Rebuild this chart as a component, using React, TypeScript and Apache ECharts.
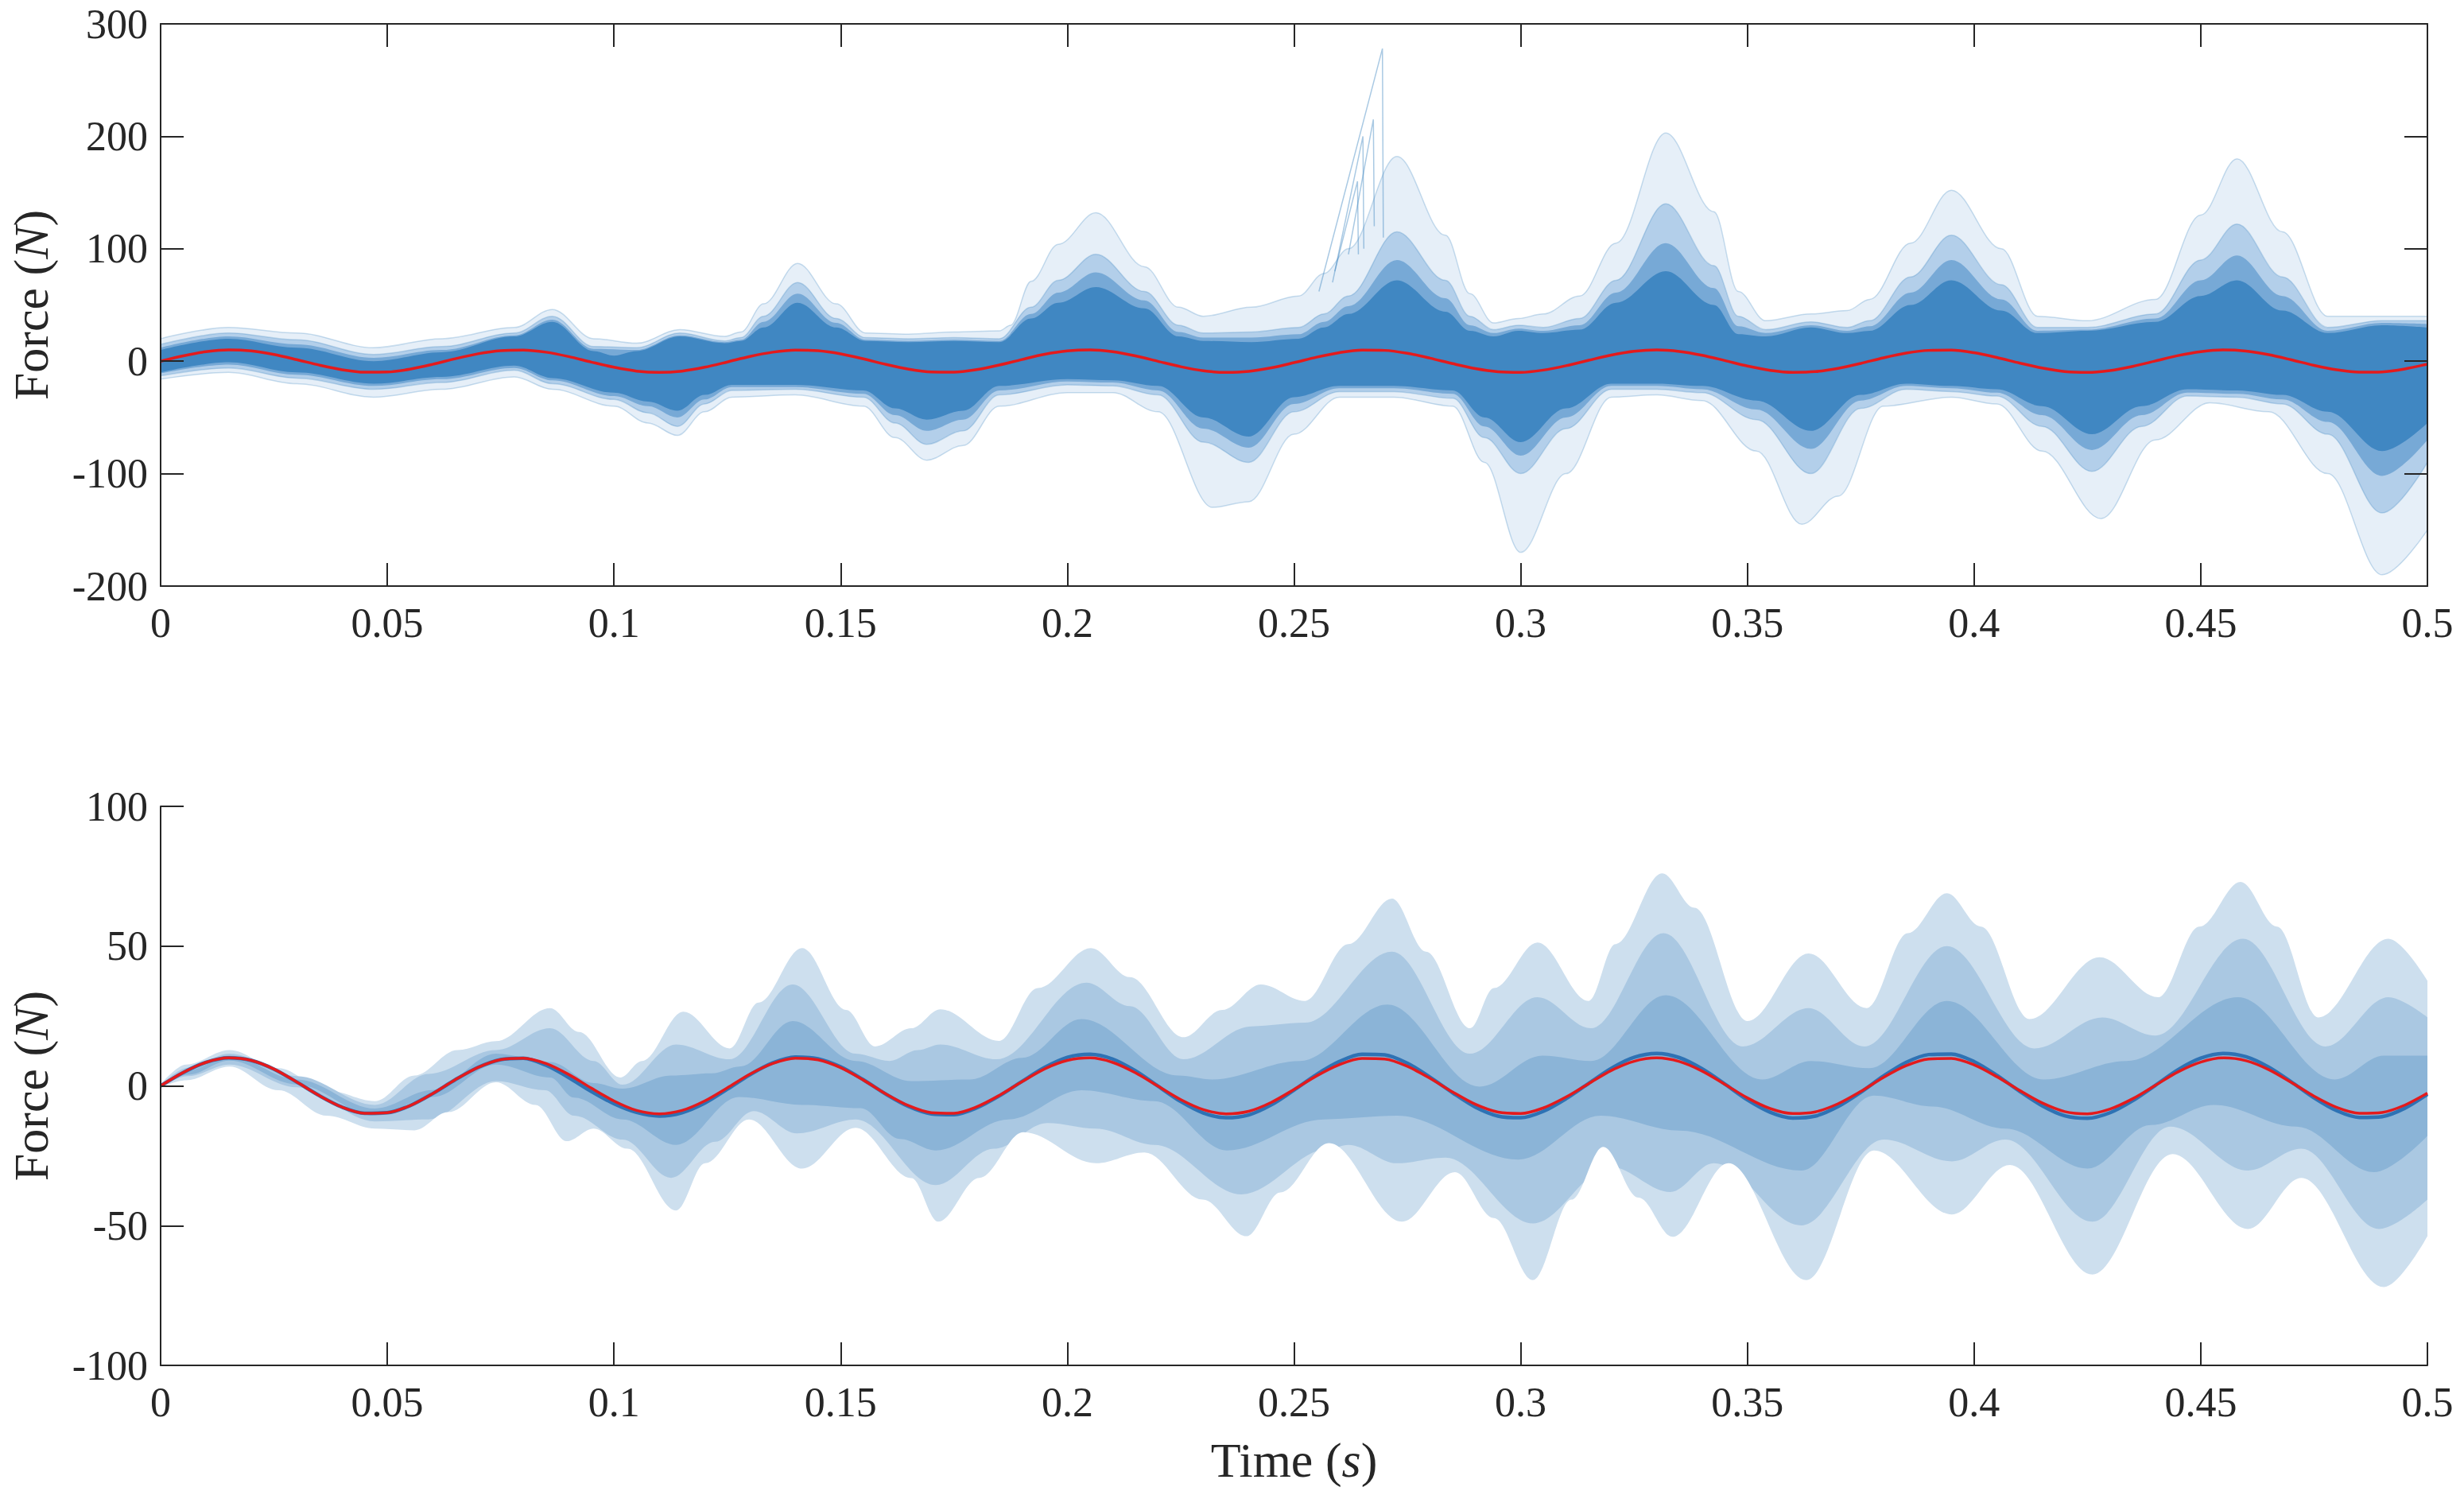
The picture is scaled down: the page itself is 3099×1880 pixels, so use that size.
import React, { useEffect, useRef } from "react";
import * as echarts from "echarts";

// ---------- shared sample times (s) for the reference and median curves ----------
const sampleTimes: number[] = [
  0, 0.005, 0.01, 0.015, 0.02, 0.025, 0.03, 0.035, 0.04, 0.045,
  0.05, 0.055, 0.06, 0.065, 0.07, 0.075, 0.08, 0.085, 0.09, 0.095,
  0.1, 0.105, 0.11, 0.115, 0.12, 0.125, 0.13, 0.135, 0.14, 0.145,
  0.15, 0.155, 0.16, 0.165, 0.17, 0.175, 0.18, 0.185, 0.19, 0.195,
  0.2, 0.205, 0.21, 0.215, 0.22, 0.225, 0.23, 0.235, 0.24, 0.245,
  0.25, 0.255, 0.26, 0.265, 0.27, 0.275, 0.28, 0.285, 0.29, 0.295,
  0.3, 0.305, 0.31, 0.315, 0.32, 0.325, 0.33, 0.335, 0.34, 0.345,
  0.35, 0.355, 0.36, 0.365, 0.37, 0.375, 0.38, 0.385, 0.39, 0.395,
  0.4, 0.405, 0.41, 0.415, 0.42, 0.425, 0.43, 0.435, 0.44, 0.445,
  0.45, 0.455, 0.46, 0.465, 0.47, 0.475, 0.48, 0.485, 0.49, 0.495, 0.5,
];

// red reference force (N)
const referenceForce: number[] = [
  0, 4.8, 8.4, 10.0, 9.1, 6.0, 1.4, -3.5, -7.6, -9.8,
  -9.6, -7.1, -2.8, 2.2, 6.6, 9.4, 9.9, 8.0, 4.1, -0.8,
  -5.4, -8.8, -10.0, -8.8, -5.4, -0.7, 4.2, 8.0, 9.9, 9.3,
  6.5, 2.1, -2.9, -7.1, -9.6, -9.8, -7.5, -3.4, 1.5, 6.1,
  9.1, 10.0, 8.4, 4.7, -0.1, -4.9, -8.5, -10.0, -9.1, -5.9,
  -1.3, 3.6, 7.6, 9.8, 9.6, 7.0, 2.7, -2.2, -6.6, -9.4,
  -9.9, -7.9, -4.0, 0.8, 5.5, 8.8, 10.0, 8.7, 5.3, 0.6,
  -4.3, -8.1, -9.9, -9.3, -6.4, -2.0, 3.0, 7.2, 9.6, 9.8,
  7.5, 3.3, -1.6, -6.1, -9.2, -10.0, -8.3, -4.6, 0.2, 5.0,
  8.5, 10.0, 9.0, 5.8, 1.2, -3.7, -7.7, -9.8, -9.5, -6.9, -2.6,
];

// blue median force (N), bottom panel
const medianForce: number[] = [
  0, 4.8, 8.4, 10.0, 9.1, 6.0, 1.4, -3.5, -7.6, -9.8,
  -9.6, -7.1, -2.8, 2.2, 6.6, 9.4, 9.9, 7.4, 3.0, -2.0,
  -6.4, -9.5, -10.8, -9.6, -6.2, -1.2, 4.0, 8.2, 10.3, 9.7,
  6.8, 2.2, -3.0, -7.4, -10.0, -10.3, -7.9, -3.6, 1.6, 6.6,
  10.2, 11.3, 9.6, 5.4, -0.1, -5.6, -9.7, -11.4, -10.4, -6.8,
  -1.5, 4.1, 8.7, 11.3, 11.1, 8.1, 3.1, -2.5, -7.6, -10.8,
  -11.4, -9.1, -4.6, 0.9, 6.3, 10.2, 11.6, 10.1, 6.1, 0.7,
  -5.0, -9.4, -11.5, -10.8, -7.4, -2.3, 3.5, 8.4, 11.2, 11.4,
  8.7, 3.8, -1.9, -7.1, -10.7, -11.6, -9.6, -5.3, 0.2, 5.8,
  9.9, 11.6, 10.4, 6.7, 1.4, -4.3, -8.9, -11.3, -11.0, -8.0, -3.0,
];

// ---------- top panel: envelopes of the simulated trajectories [t, N] ----------
const topOuterUp: number[][] = [
  [0, 20], [0.015, 30], [0.03, 25], [0.047, 12], [0.062, 20], [0.078, 30], [0.0864, 46], [0.0955, 20],
  [0.105, 16], [0.1145, 28], [0.1244, 22], [0.128, 26], [0.133, 51], [0.1405, 87], [0.149, 51], [0.1555, 25],
  [0.165, 24], [0.175, 26], [0.185, 27], [0.1875, 32], [0.192, 71], [0.198, 104], [0.2063, 132], [0.217, 84],
  [0.2245, 48], [0.23, 40], [0.2406, 48], [0.251, 58], [0.2566, 78], [0.262, 100], [0.2727, 182], [0.2834, 112],
  [0.2888, 60], [0.294, 34], [0.2995, 38], [0.305, 42], [0.313, 58], [0.321, 105], [0.332, 203], [0.3426, 133],
  [0.348, 62], [0.354, 36], [0.364, 42], [0.372, 45], [0.377, 55], [0.386, 105], [0.395, 152], [0.406, 100],
  [0.414, 40], [0.425, 36], [0.44, 55], [0.45, 130], [0.458, 180], [0.468, 115], [0.478, 40], [0.49, 40], [0.5, 40],
];
const topFringeUp: number[][] = [
  [0, 15], [0.015, 25], [0.03, 19], [0.047, 6], [0.062, 13], [0.078, 25], [0.0864, 40], [0.0955, 13],
  [0.105, 12], [0.1145, 25], [0.1244, 18], [0.128, 21], [0.133, 40], [0.1405, 70], [0.149, 38], [0.1555, 21],
  [0.165, 20], [0.175, 21], [0.185, 20], [0.192, 48], [0.198, 72], [0.2063, 95], [0.217, 62], [0.2245, 32],
  [0.23, 25], [0.2406, 26], [0.251, 30], [0.2566, 42], [0.262, 58], [0.2727, 115], [0.2834, 72], [0.2888, 40],
  [0.294, 28], [0.2995, 32], [0.305, 30], [0.313, 38], [0.321, 72], [0.332, 140], [0.3426, 85], [0.348, 40],
  [0.354, 28], [0.364, 35], [0.372, 30], [0.377, 36], [0.386, 75], [0.395, 112], [0.406, 68], [0.414, 30],
  [0.425, 30], [0.44, 42], [0.45, 90], [0.458, 122], [0.468, 75], [0.478, 30], [0.49, 36], [0.5, 36],
];
const topDenseUp: number[][] = [
  [0, 12], [0.015, 22], [0.03, 15], [0.047, 3], [0.062, 10], [0.078, 23], [0.0864, 37], [0.0955, 11],
  [0.105, 10], [0.1145, 23], [0.1244, 17], [0.128, 19], [0.133, 35], [0.1405, 60], [0.149, 34], [0.1555, 19],
  [0.165, 18], [0.175, 19], [0.185, 18], [0.192, 42], [0.198, 61], [0.2063, 79], [0.217, 54], [0.2245, 26],
  [0.23, 21], [0.2406, 21], [0.251, 24], [0.2566, 35], [0.262, 49], [0.2727, 90], [0.2834, 56], [0.2888, 32],
  [0.294, 25], [0.2995, 29], [0.305, 27], [0.313, 32], [0.321, 61], [0.332, 105], [0.3426, 65], [0.348, 31],
  [0.354, 25], [0.364, 32], [0.372, 27], [0.377, 31], [0.386, 61], [0.395, 90], [0.406, 55], [0.414, 27],
  [0.425, 28], [0.44, 38], [0.45, 72], [0.458, 94], [0.468, 58], [0.478, 27], [0.49, 34], [0.5, 33],
];
const topCoreUp: number[][] = [
  [0, 10], [0.015, 20], [0.03, 12], [0.047, 0], [0.062, 8], [0.078, 22], [0.0864, 35], [0.0955, 9],
  [0.1, 5], [0.105, 9], [0.1145, 22], [0.1244, 16], [0.128, 18], [0.133, 30], [0.1405, 52], [0.149, 30],
  [0.1555, 18], [0.165, 17], [0.175, 18], [0.185, 17], [0.192, 38], [0.198, 52], [0.2063, 66], [0.217, 47],
  [0.2245, 22], [0.23, 18], [0.2406, 17], [0.251, 20], [0.2566, 30], [0.262, 42], [0.2727, 72], [0.2834, 44],
  [0.2888, 27], [0.294, 22], [0.2995, 27], [0.305, 25], [0.313, 28], [0.321, 52], [0.332, 80], [0.3426, 50],
  [0.348, 24], [0.354, 22], [0.364, 30], [0.372, 25], [0.377, 27], [0.386, 50], [0.395, 72], [0.406, 45],
  [0.414, 25], [0.425, 27], [0.44, 35], [0.45, 58], [0.458, 72], [0.468, 45], [0.478, 25], [0.49, 32], [0.5, 30],
];
const topCoreLow: number[][] = [
  [0, -10], [0.015, -1], [0.03, -10], [0.047, -20], [0.062, -14], [0.078, -4], [0.0864, -15], [0.1, -28],
  [0.1075, -36], [0.114, -44], [0.12, -30], [0.126, -21], [0.14, -21], [0.155, -26], [0.162, -42], [0.169, -52],
  [0.177, -44], [0.185, -22], [0.2, -16], [0.21, -17], [0.22, -22], [0.23, -50], [0.24, -67], [0.25, -32],
  [0.26, -22], [0.272, -22], [0.285, -26], [0.292, -50], [0.3, -72], [0.31, -42], [0.32, -20], [0.33, -20],
  [0.34, -22], [0.352, -35], [0.364, -62], [0.375, -30], [0.385, -20], [0.395, -22], [0.405, -25], [0.415, -40],
  [0.426, -65], [0.437, -40], [0.447, -25], [0.458, -26], [0.468, -30], [0.478, -45], [0.49, -80], [0.5, -55],
];
const topDenseLow: number[][] = [
  [0, -11], [0.015, -3], [0.03, -12], [0.047, -22], [0.062, -16], [0.078, -6], [0.0864, -17], [0.1, -31],
  [0.1075, -40], [0.114, -50], [0.12, -34], [0.126, -23], [0.14, -23], [0.155, -29], [0.162, -48], [0.169, -62],
  [0.177, -52], [0.185, -26], [0.2, -18], [0.21, -19], [0.22, -26], [0.23, -60], [0.24, -77], [0.25, -38],
  [0.26, -24], [0.272, -24], [0.285, -29], [0.292, -58], [0.3, -84], [0.31, -50], [0.32, -22], [0.33, -22],
  [0.34, -25], [0.352, -43], [0.364, -78], [0.375, -35], [0.385, -22], [0.395, -24], [0.405, -28], [0.415, -48],
  [0.426, -79], [0.437, -48], [0.447, -28], [0.458, -29], [0.468, -34], [0.478, -54], [0.49, -102], [0.5, -70],
];
const topFringeLow: number[][] = [
  [0, -13], [0.015, -6], [0.03, -15], [0.047, -25], [0.062, -19], [0.078, -8], [0.0864, -20], [0.1, -34],
  [0.1075, -46], [0.114, -58], [0.12, -38], [0.126, -26], [0.14, -25], [0.155, -32], [0.162, -55], [0.169, -74],
  [0.177, -62], [0.185, -30], [0.2, -21], [0.21, -22], [0.22, -30], [0.23, -72], [0.24, -90], [0.25, -45],
  [0.26, -27], [0.272, -27], [0.285, -33], [0.292, -68], [0.3, -100], [0.31, -60], [0.32, -25], [0.33, -25],
  [0.34, -28], [0.352, -52], [0.364, -100], [0.375, -42], [0.385, -25], [0.395, -27], [0.405, -31], [0.415, -58],
  [0.426, -98], [0.437, -58], [0.447, -31], [0.458, -32], [0.468, -38], [0.478, -65], [0.49, -135], [0.5, -90],
];
const topOuterLow: number[][] = [
  [0, -16], [0.015, -10], [0.03, -20], [0.047, -32], [0.062, -25], [0.078, -14], [0.0864, -25], [0.1, -40],
  [0.1075, -55], [0.114, -66], [0.12, -45], [0.126, -32], [0.14, -30], [0.155, -40], [0.162, -68], [0.169, -88],
  [0.177, -75], [0.185, -40], [0.2, -28], [0.21, -28], [0.22, -45], [0.232, -130], [0.24, -125], [0.25, -65],
  [0.26, -32], [0.272, -32], [0.285, -40], [0.292, -90], [0.3, -170], [0.31, -100], [0.32, -32], [0.33, -30],
  [0.34, -35], [0.352, -80], [0.362, -145], [0.37, -120], [0.38, -40], [0.395, -32], [0.405, -38], [0.415, -80],
  [0.428, -140], [0.44, -70], [0.452, -37], [0.465, -45], [0.478, -100], [0.49, -190], [0.5, -150],
];
// isolated spiking trajectories near 0.26 s
const spikeTraces: number[][][] = [
  [[0.2555, 62], [0.2695, 278], [0.2697, 110]],
  [[0.2585, 70], [0.2652, 200], [0.2654, 100]],
  [[0.259, 80], [0.264, 160], [0.2642, 95]],
  [[0.262, 95], [0.2675, 215], [0.2677, 120]],
];

// ---------- bottom panel: percentile bands [t, N] ----------
const bandOuterUp: number[][] = [
  [0, 0.5], [0.0056, 7.6], [0.0152, 12.8], [0.026, 6.3], [0.0366, -1.6], [0.0473, -5.5], [0.056, 3.7], [0.0655, 12.8],
  [0.074, 16], [0.0859, 27.8], [0.0923, 19.3], [0.1014, 3.0], [0.1062, 8.9], [0.1153, 26.5], [0.1255, 13.4], [0.1319, 29.8],
  [0.1415, 49.3], [0.1512, 27.2], [0.1576, 14.1], [0.1656, 20.6], [0.172, 27.4], [0.1849, 16.1], [0.1935, 35], [0.2052, 49.3],
  [0.2138, 38.9], [0.2256, 17.4], [0.2342, 27.2], [0.2427, 36.3], [0.2524, 30.4], [0.262, 50.7], [0.2716, 67], [0.2791, 48],
  [0.2888, 20.6], [0.2941, 35], [0.3037, 51.3], [0.315, 30.4], [0.3209, 50.7], [0.3312, 76], [0.3383, 63.7], [0.35, 23.2],
  [0.3635, 47.4], [0.3763, 27.8], [0.3854, 54.6], [0.394, 68.9], [0.4015, 57], [0.4122, 23.9], [0.4277, 46], [0.4406, 31.7],
  [0.4497, 57], [0.4588, 73], [0.4668, 57], [0.4759, 24.5], [0.4914, 52.6], [0.5, 37.6],
];
const bandMiddleUp: number[][] = [
  [0, 0.3], [0.006, 6.5], [0.0152, 11.5], [0.03, 3.5], [0.0473, -6.8], [0.0591, 4.3], [0.074, 12.8], [0.0859, 20.6],
  [0.0955, 8.9], [0.1019, 0.4], [0.1137, 14.8], [0.1255, 9.5], [0.1394, 36.3], [0.1533, 11.5], [0.1608, 8.9], [0.167, 12.8],
  [0.172, 14.8], [0.1844, 9.5], [0.2042, 36.9], [0.2138, 28.5], [0.2256, 9.5], [0.2406, 21.3], [0.2524, 22.6], [0.2716, 48],
  [0.2888, 11.5], [0.3037, 31.7], [0.3155, 20.6], [0.3315, 54.6], [0.349, 14.1], [0.3635, 27.8], [0.3758, 14.1], [0.394, 50],
  [0.4133, 13.4], [0.4283, 24.5], [0.44, 18], [0.4593, 52.6], [0.4775, 14.1], [0.4914, 31.7], [0.5, 24.5],
];
const bandInnerUp: number[][] = [
  [0, 0.2], [0.006, 5.5], [0.0152, 10.8], [0.03, 2.3], [0.0473, -8.1], [0.06, -1.5], [0.074, 11.5], [0.0859, 8.5],
  [0.0955, 1], [0.1019, -1], [0.1126, 3.7], [0.1215, 4.5], [0.128, 7], [0.1394, 23.2], [0.1533, 8.9], [0.1656, 1.7],
  [0.1785, 2.3], [0.19, 10], [0.2031, 23.9], [0.2245, 3.7], [0.232, 2.3], [0.2513, 8.9], [0.2706, 29.1], [0.2909, -0.3],
  [0.3048, 10.8], [0.3155, 8.9], [0.332, 32.4], [0.3533, 2.3], [0.364, 8.9], [0.3769, 6.3], [0.394, 30.4], [0.4154, 2.3],
  [0.4336, 8.9], [0.4582, 31.7], [0.4796, 2.3], [0.4904, 10.8], [0.5, 10.8],
];
const bandInnerLow: number[][] = [
  [0, -0.2], [0.006, 4], [0.0152, 9], [0.03, 0.5], [0.0473, -10.7], [0.06, -4], [0.074, 7.6], [0.0859, 3],
  [0.0912, -4.2], [0.1019, -12], [0.1137, -21.1], [0.1276, -4], [0.1415, -6.8], [0.1544, -8], [0.163, -19], [0.171, -23.1],
  [0.187, -12], [0.2031, -1.6], [0.2192, -5.5], [0.2352, -23.1], [0.2566, -12], [0.2727, -10.7], [0.2995, -26.4], [0.3177, -10.7],
  [0.335, -16], [0.3619, -30.3], [0.3779, -3.5], [0.3908, -7.4], [0.4069, -15.3], [0.425, -29.6], [0.439, -14], [0.4529, -6.8],
  [0.4711, -14.6], [0.4882, -30.9], [0.5, -17.9],
];
const bandMiddleLow: number[][] = [
  [0, -0.3], [0.006, 3.5], [0.0152, 7.6], [0.03, -0.5], [0.0473, -12.7], [0.0591, -12], [0.074, 1.7], [0.0848, -1.6],
  [0.0912, -10.7], [0.1019, -19.2], [0.1126, -32.9], [0.1223, -20], [0.1308, -9], [0.1404, -17], [0.1533, -12], [0.171, -35.5],
  [0.1838, -22.5], [0.1956, -13.3], [0.2063, -15.3], [0.2192, -21.1], [0.2384, -38.8], [0.2577, -22.5], [0.262, -21.1], [0.2727, -27.7],
  [0.2834, -25.7], [0.3027, -49.2], [0.3198, -29], [0.333, -38], [0.3426, -27.7], [0.3619, -49.9], [0.3801, -19.2], [0.3951, -27],
  [0.4069, -19.2], [0.4261, -48.6], [0.4433, -14.6], [0.4604, -30.3], [0.4722, -22.5], [0.4893, -51.2], [0.5, -40.7],
];
const bandOuterLow: number[][] = [
  [0, -0.5], [0.0056, 2], [0.0152, 6.9], [0.026, -1.6], [0.0366, -10.7], [0.0473, -15.3], [0.056, -15.9], [0.0634, -9.4],
  [0.074, 1.3], [0.0827, -6.8], [0.0896, -19.8], [0.0955, -15.3], [0.103, -22.5], [0.1137, -44.6], [0.1201, -27.7], [0.1298, -12],
  [0.1415, -29.6], [0.1533, -15], [0.1656, -33], [0.1715, -48.6], [0.1806, -32.9], [0.1903, -16.6], [0.2063, -27.7], [0.217, -23.8],
  [0.2299, -40.7], [0.2395, -53.8], [0.247, -38.1], [0.2577, -20.5], [0.2738, -48.6], [0.2855, -30.9], [0.2941, -47.3], [0.3027, -69.5],
  [0.3112, -40.7], [0.3182, -21.8], [0.326, -40], [0.3335, -54], [0.3458, -27.7], [0.363, -69.5], [0.3779, -23.1], [0.3951, -46],
  [0.4079, -28.3], [0.4261, -67.5], [0.4438, -24.4], [0.4604, -51.2], [0.4722, -32.9], [0.4904, -72], [0.5, -53.8],
];

// ---------- axes ----------
const timeAxis = { min: 0, max: 0.5, interval: 0.05 };
const topForceAxis = { min: -200, max: 300, interval: 100 };
const bottomForceAxis = { min: -100, max: 100, interval: 50 };

const FONT = "'Liberation Serif', 'Times New Roman', serif";
const INK = "#262626";

export default function App() {
  const ref = useRef<HTMLDivElement>(null);

  useEffect(() => {
    document.body.style.margin = "0";
    if (!ref.current) return;
    const chart = echarts.init(ref.current, undefined, { renderer: "svg" });

    const zip = (ts: number[], vs: number[]) => ts.map((t, i) => [t, vs[i]]);

    const axisLine = { show: true, onZero: false, lineStyle: { color: INK, width: 2 } };
    const axisTick = { show: true, inside: true, length: 29, lineStyle: { color: INK, width: 2 } };
    const label = { color: INK, fontFamily: FONT, fontSize: 52 };
    const timeFmt = (v: number) => String(Number(v.toFixed(2)));
    const nameStyle = {
      color: INK,
      fontFamily: FONT,
      fontSize: 62,
      rich: { i: { fontStyle: "italic", fontFamily: FONT, fontSize: 62, color: INK } },
    };

    const axisIdx = (axis: number) => ({
      xAxisIndex: axis === 0 ? 0 : 2,
      yAxisIndex: axis === 0 ? 0 : 2,
    });

    // envelope fill: filled down to the axis minimum, painted in nested order
    const area = (data: number[][], color: string, axis: number) => ({
      type: "line",
      ...axisIdx(axis),
      data,
      smooth: 0.35,
      smoothMonotone: "x",
      showSymbol: false,
      symbol: "none",
      silent: true,
      lineStyle: { width: 0, opacity: 0 },
      areaStyle: { color, opacity: 1, origin: "start" },
    });
    // thin strands drawn along envelope edges
    const strandLine = (data: number[][], color: string, width: number) => ({
      type: "line",
      ...axisIdx(0),
      data,
      smooth: 0.35,
      smoothMonotone: "x",
      showSymbol: false,
      symbol: "none",
      silent: true,
      lineStyle: { color, width },
    });
    // evenly sampled curves
    const curve = (data: number[][], color: string, width: number, axis: number, smooth: any = 0.3) => ({
      type: "line",
      ...axisIdx(axis),
      data,
      smooth,
      showSymbol: false,
      symbol: "none",
      silent: true,
      lineStyle: { color, width },
    });

    const core = "#4087c2";
    const dense = "#77a9d6";
    const fringe = "#b3cfea";
    const outer = "#e6eff8";
    const strand = "rgba(64,135,194,0.28)";

    const series: any[] = [
      area(topOuterUp, outer, 0),
      area(topFringeUp, fringe, 0),
      area(topDenseUp, dense, 0),
      area(topCoreUp, core, 0),
      area(topCoreLow, dense, 0),
      area(topDenseLow, fringe, 0),
      area(topFringeLow, outer, 0),
      area(topOuterLow, "#ffffff", 0),
      strandLine(topOuterUp, strand, 1.5),
      strandLine(topOuterLow, strand, 1.5),
      strandLine(topFringeUp, strand, 1.5),
      strandLine(topFringeLow, strand, 1.5),
      ...spikeTraces.map((s) => curve(s, "rgba(64,135,194,0.45)", 1.5, 0, false)),
      curve(zip(sampleTimes, referenceForce), "#e41a1c", 3.5, 0),

      area(bandOuterUp, "#cddfee", 1),
      area(bandMiddleUp, "#aac8e2", 1),
      area(bandInnerUp, "#8bb4d7", 1),
      area(bandInnerLow, "#aac8e2", 1),
      area(bandMiddleLow, "#cddfee", 1),
      area(bandOuterLow, "#ffffff", 1),
      curve(zip(sampleTimes, medianForce), "#2e72b4", 4.5, 1),
      curve(zip(sampleTimes, referenceForce), "#e41a1c", 3.5, 1),
    ];

    chart.setOption({
      animation: false,
      backgroundColor: "#ffffff",
      grid: [
        { left: 200, top: 30, width: 2853, height: 707, containLabel: false },
        { left: 200, top: 1014, width: 2853, height: 703, containLabel: false },
      ],
      xAxis: [
        {
          gridIndex: 0, type: "value", position: "bottom", ...timeAxis, z: 10,
          axisLine, axisTick, splitLine: { show: false },
          axisLabel: { ...label, margin: 20, formatter: timeFmt },
        },
        {
          gridIndex: 0, type: "value", position: "top", ...timeAxis, z: 10,
          axisLine, axisTick, splitLine: { show: false }, axisLabel: { show: false },
        },
        {
          gridIndex: 1, type: "value", position: "bottom", ...timeAxis, z: 10,
          axisLine, axisTick, splitLine: { show: false },
          axisLabel: { ...label, margin: 20, formatter: timeFmt },
          name: "Time ({i|s})", nameLocation: "middle", nameGap: 88, nameTextStyle: nameStyle,
        },
      ],
      yAxis: [
        {
          gridIndex: 0, type: "value", position: "left", ...topForceAxis, z: 10,
          axisLine, axisTick, splitLine: { show: false },
          axisLabel: { ...label, margin: 16 },
          name: "Force ({i|N})", nameLocation: "middle", nameGap: 132, nameTextStyle: nameStyle,
        },
        {
          gridIndex: 0, type: "value", position: "right", ...topForceAxis, z: 10,
          axisLine, axisTick, splitLine: { show: false }, axisLabel: { show: false },
        },
        {
          gridIndex: 1, type: "value", position: "left", ...bottomForceAxis, z: 10,
          axisLine, axisTick, splitLine: { show: false },
          axisLabel: { ...label, margin: 16 },
          name: "Force ({i|N})", nameLocation: "middle", nameGap: 132, nameTextStyle: nameStyle,
        },
      ],
      series,
    });

    return () => chart.dispose();
  }, []);

  return <div ref={ref} style={{ width: 3099, height: 1880 }} />;
}
